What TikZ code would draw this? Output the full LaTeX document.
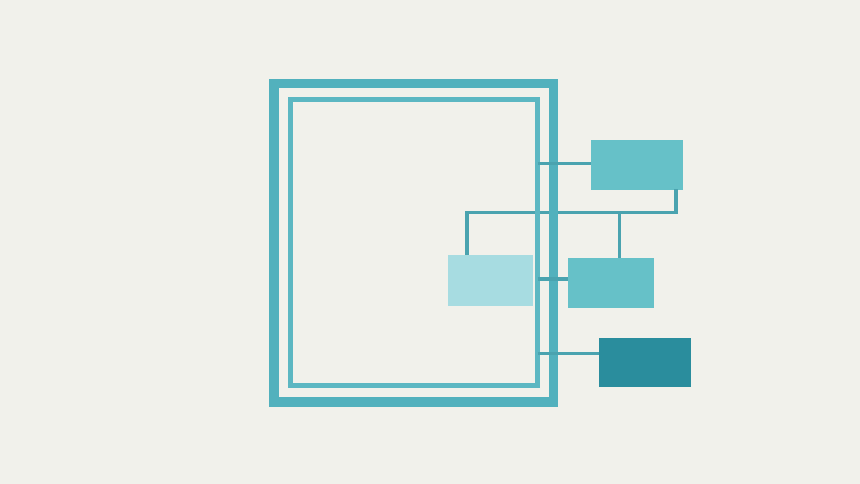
\documentclass[tikz,border=0pt]{standalone}
\usetikzlibrary{calc}
\definecolor{bg}{HTML}{F1F1EB}
\definecolor{frameA}{HTML}{52B1BD}
\definecolor{frameB}{HTML}{5CB7C2}
\definecolor{wire}{HTML}{4AA3AF}
\definecolor{boxmid}{HTML}{66C1C8}
\definecolor{boxlight}{HTML}{A7DCE1}
\definecolor{boxdark}{HTML}{2A8D9D}
\begin{document}
\begin{tikzpicture}[x=1pt,y=-1pt,
  frameouter/.style={draw=frameA,line width=9.5pt,inner sep=0pt,outer sep=0pt,minimum width=279.5pt,minimum height=318.5pt},
  frameinner/.style={draw=frameB,line width=5pt,inner sep=0pt,outer sep=0pt,minimum width=246.9pt,minimum height=285.8pt},
  blockbox/.style={inner sep=0pt,outer sep=0pt},
  wireline/.style={draw=wire,line width=3.5pt}]
\fill[bg] (0,0) rectangle (860,484);
\useasboundingbox (0,0) rectangle (860,484);
% boxes
\node[blockbox,fill=boxmid,minimum width=92.3pt,minimum height=49.5pt] (top) at (637.2,164.8) {};
\node[blockbox,fill=boxlight,minimum width=85pt,minimum height=51pt] (light) at (490,280.5) {};
\node[blockbox,fill=boxmid,minimum width=85.5pt,minimum height=50.6pt] (mid) at (611.2,283) {};
\node[blockbox,fill=boxdark,minimum width=91.4pt,minimum height=48.4pt] (dark) at (645,362.5) {};
% tree junction coordinates
\coordinate (ta) at (675.8,189.5);
\coordinate (tb) at (675.8,212.5);
\coordinate (tc) at (467,212.5);
\coordinate (td) at (467,255);
\coordinate (te) at (619.7,212.5);
\coordinate (tf) at (619.7,257.7);
\draw[wireline] (ta) -- (tb) -- (tc) -- (td);
\draw[wireline] (te) -- (tf);
% frames
\node[frameouter] (outer) at (413.75,242.75) {};
\node[frameinner] (inner) at (414.25,242.1) {};
% side connectors
\coordinate (h1) at (0,163.3);
\coordinate (h2) at (0,279);
\coordinate (h3) at (0,353.3);
\draw[wireline] (inner.east |- h1) -- (top.west |- h1);
\draw[wireline] (inner.east |- h2) -- (mid.west |- h2);
\draw[wireline] (inner.east |- h3) -- (dark.west |- h3);
\end{tikzpicture}
\end{document}
